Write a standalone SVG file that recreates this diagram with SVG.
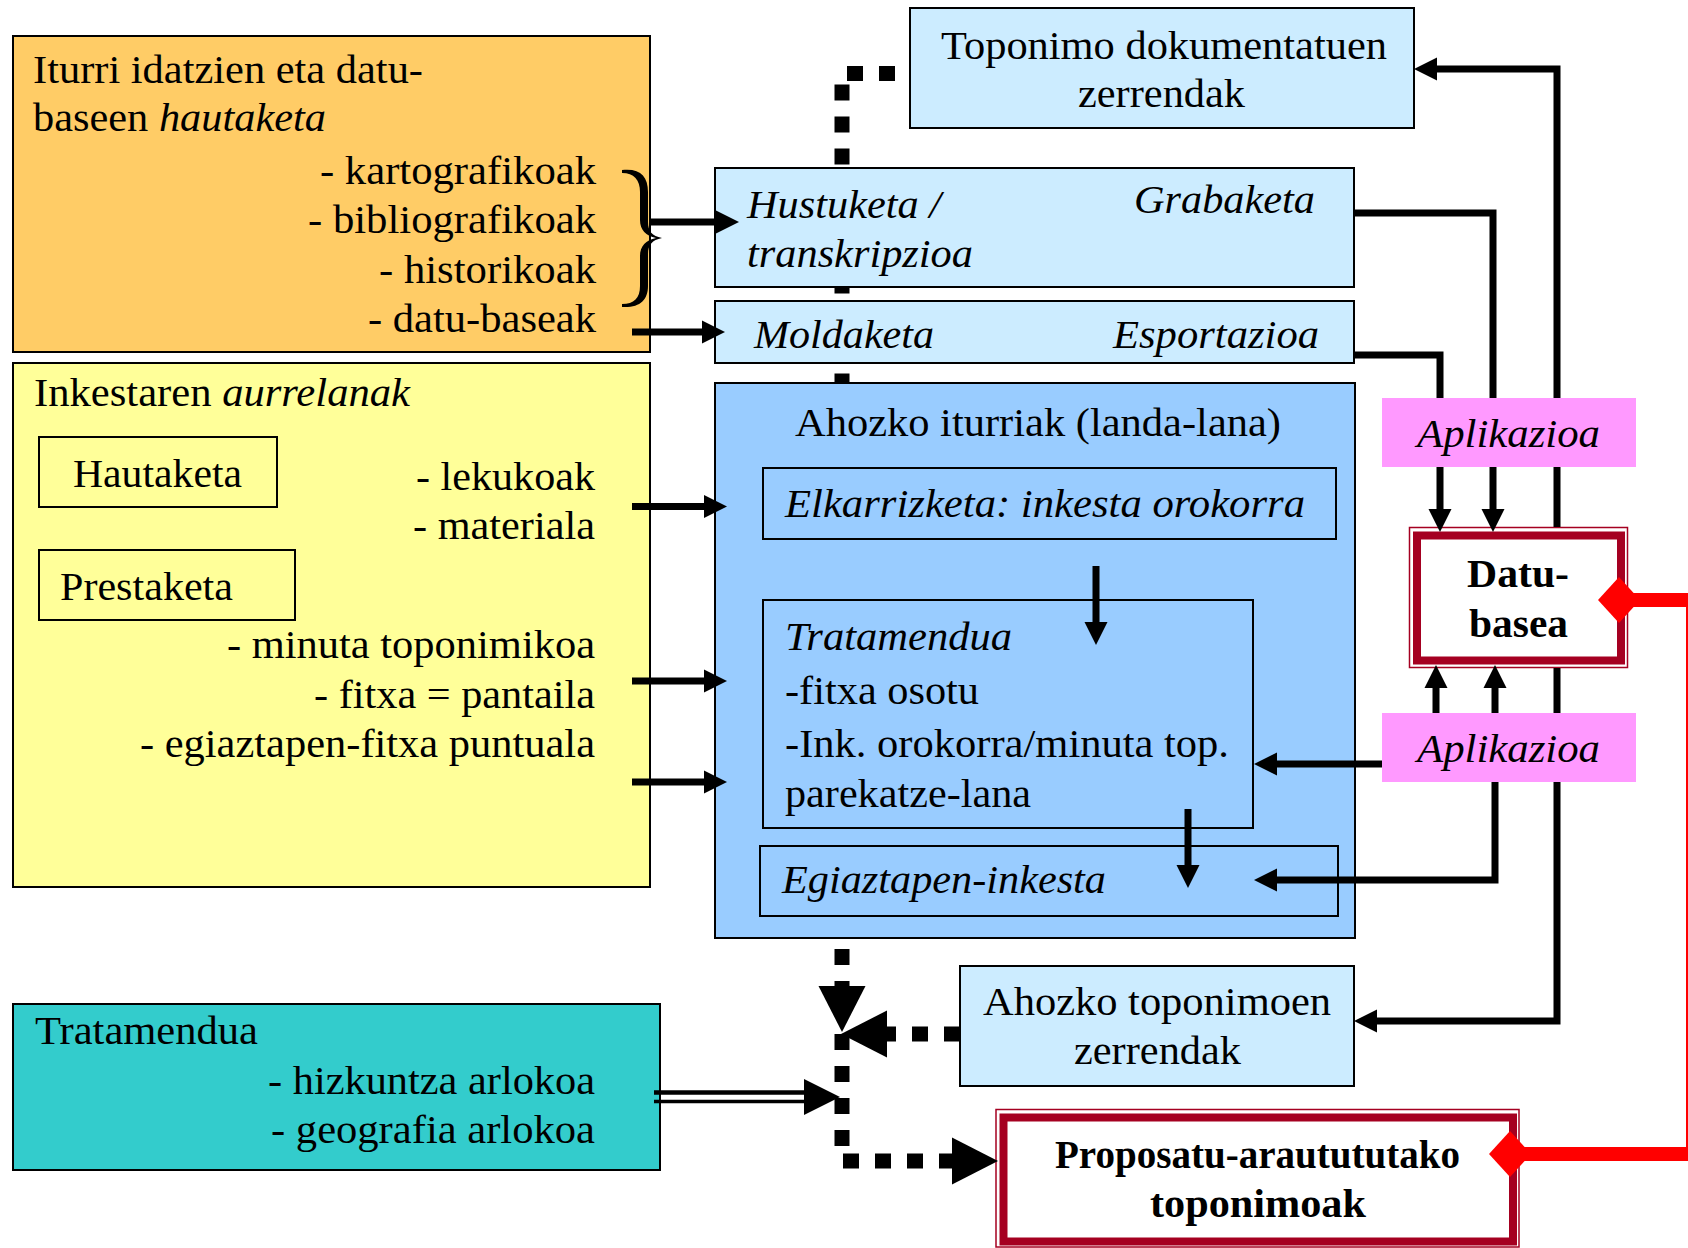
<svg xmlns="http://www.w3.org/2000/svg" width="1688" height="1248" viewBox="0 0 1688 1248">
<defs>
<style>
.t{font-family:"Liberation Serif","Times New Roman",serif;font-size:41px;fill:#000}
.i{font-style:italic}
.b{font-weight:bold}
.box{stroke:#000;stroke-width:2}
.ln{fill:none;stroke:#000;stroke-width:7}
.dash{fill:none;stroke:#000;stroke-width:15;stroke-dasharray:16 16}
.red{fill:none;stroke:#FF0000;stroke-width:14}
.dbo{fill:#fff;stroke:#A50021;stroke-width:1.5}
.dbi{fill:#fff;stroke:#A50021;stroke-width:8}
</style>
<marker id="ah" markerUnits="userSpaceOnUse" viewBox="0 -13 25 26" markerWidth="25" markerHeight="26" refX="0" refY="0" orient="auto-start-reverse" overflow="visible">
<path d="M0,-11.5 L23,0 L0,11.5 Z" fill="#000"/>
</marker>
<marker id="big" markerUnits="userSpaceOnUse" viewBox="0 -25 48 50" markerWidth="48" markerHeight="50" refX="0" refY="0" orient="auto" overflow="visible">
<path d="M0,-23.5 L46,0 L0,23.5 Z" fill="#000"/>
</marker>
<marker id="dia" markerUnits="userSpaceOnUse" viewBox="-22 -24 44 48" markerWidth="44" markerHeight="48" refX="0" refY="0" orient="0" overflow="visible">
<path d="M-21,0 L0,-23 L21,0 L0,23 Z" fill="#FF0000"/>
</marker>
</defs>
<rect width="1688" height="1248" fill="#fff"/>

<g id="node-iturri">
<rect class="box" x="13" y="36" width="637" height="316" fill="#FFCC66"/>
<text class="t" x="33" y="83" textLength="390" lengthAdjust="spacingAndGlyphs">Iturri idatzien eta datu-</text>
<text class="t" x="33" y="131" textLength="293" lengthAdjust="spacingAndGlyphs">baseen <tspan class="i">hautaketa</tspan></text>
<text class="t" x="320" y="184" textLength="276" lengthAdjust="spacingAndGlyphs">- kartografikoak</text>
<text class="t" x="308" y="233" textLength="288" lengthAdjust="spacingAndGlyphs">- bibliografikoak</text>
<text class="t" x="379" y="283" textLength="217" lengthAdjust="spacingAndGlyphs">- historikoak</text>
<text class="t" x="368" y="332" textLength="228" lengthAdjust="spacingAndGlyphs">- datu-baseak</text>
<path d="M622 170 C640 168 648 176 648 192 L648 222 C648 231 652 236 662 238 C652 240 648 245 648 254 L648 286 C648 300 640 308 622 307 L622 304 C634 304 640 298 640 286 L640 256 C640 246 646 240 656 238 C646 236 640 230 640 220 L640 192 C640 180 634 173 622 173 Z" fill="#000"/>
</g>

<g id="node-inkesta">
<rect class="box" x="13" y="363" width="637" height="524" fill="#FFFF99"/>
<text class="t" x="34" y="406" textLength="376" lengthAdjust="spacingAndGlyphs">Inkestaren <tspan class="i">aurrelanak</tspan></text>
<rect class="box" x="39" y="437" width="238" height="70" fill="none"/>
<text class="t" x="73" y="487" textLength="169" lengthAdjust="spacingAndGlyphs">Hautaketa</text>
<rect class="box" x="39" y="550" width="256" height="70" fill="none"/>
<text class="t" x="60" y="600" textLength="173" lengthAdjust="spacingAndGlyphs">Prestaketa</text>
<text class="t" x="416" y="490" textLength="179" lengthAdjust="spacingAndGlyphs">- lekukoak</text>
<text class="t" x="413" y="539" textLength="182" lengthAdjust="spacingAndGlyphs">- materiala</text>
<text class="t" x="227" y="658" textLength="368" lengthAdjust="spacingAndGlyphs">- minuta toponimikoa</text>
<text class="t" x="314" y="708" textLength="281" lengthAdjust="spacingAndGlyphs">- fitxa = pantaila</text>
<text class="t" x="140" y="757" textLength="455" lengthAdjust="spacingAndGlyphs">- egiaztapen-fitxa puntuala</text>
</g>

<g id="node-tratamendua">
<rect class="box" x="13" y="1004" width="647" height="166" fill="#33CCCC"/>
<text class="t" x="35" y="1044" textLength="223" lengthAdjust="spacingAndGlyphs">Tratamendua</text>
<text class="t" x="268" y="1094" textLength="327" lengthAdjust="spacingAndGlyphs">- hizkuntza arlokoa</text>
<text class="t" x="271" y="1143" textLength="324" lengthAdjust="spacingAndGlyphs">- geografia arlokoa</text>
</g>

<g id="node-toponimo-dok">
<rect class="box" x="910" y="8" width="504" height="120" fill="#CCECFF"/>
<text class="t" x="941" y="59" textLength="446" lengthAdjust="spacingAndGlyphs">Toponimo dokumentatuen</text>
<text class="t" x="1078" y="107" textLength="167" lengthAdjust="spacingAndGlyphs">zerrendak</text>
</g>

<g id="node-hustuketa">
<rect class="box" x="715" y="168" width="639" height="119" fill="#CCECFF"/>
<text class="t i" x="747" y="218" textLength="194" lengthAdjust="spacingAndGlyphs">Hustuketa /</text>
<text class="t i" x="747" y="267" textLength="226" lengthAdjust="spacingAndGlyphs">transkripzioa</text>
<text class="t i" x="1134" y="213" textLength="181" lengthAdjust="spacingAndGlyphs">Grabaketa</text>
</g>

<g id="node-moldaketa">
<rect class="box" x="715" y="301" width="639" height="62" fill="#CCECFF"/>
<text class="t i" x="754" y="348" textLength="180" lengthAdjust="spacingAndGlyphs">Moldaketa</text>
<text class="t i" x="1113" y="348" textLength="206" lengthAdjust="spacingAndGlyphs">Esportazioa</text>
</g>

<g id="node-ahozko-iturriak">
<rect class="box" x="715" y="383" width="640" height="555" fill="#99CCFF"/>
<text class="t" x="795" y="436" textLength="486" lengthAdjust="spacingAndGlyphs">Ahozko iturriak (landa-lana)</text>
</g>
<g id="node-elkarrizketa">
<rect class="box" x="763" y="468" width="573" height="71" fill="none"/>
<text class="t i" x="785" y="517" textLength="520" lengthAdjust="spacingAndGlyphs">Elkarrizketa: inkesta orokorra</text>
</g>
<g id="node-tratamendua-in">
<rect class="box" x="763" y="600" width="490" height="228" fill="none"/>
<text class="t i" x="785" y="650" textLength="227" lengthAdjust="spacingAndGlyphs">Tratamendua</text>
<text class="t" x="785" y="704" textLength="194" lengthAdjust="spacingAndGlyphs">-fitxa osotu</text>
<text class="t" x="785" y="757" textLength="444" lengthAdjust="spacingAndGlyphs">-Ink. orokorra/minuta top.</text>
<text class="t" x="785" y="807" textLength="246" lengthAdjust="spacingAndGlyphs">parekatze-lana</text>
</g>
<g id="node-egiaztapen">
<rect class="box" x="760" y="846" width="578" height="70" fill="none"/>
<text class="t i" x="782" y="893" textLength="324" lengthAdjust="spacingAndGlyphs">Egiaztapen-inkesta</text>
</g>

<g id="node-aplikazioa-1">
<rect x="1382" y="398" width="254" height="69" fill="#FF99FF"/>
<text class="t i" x="1417" y="447" textLength="183" lengthAdjust="spacingAndGlyphs">Aplikazioa</text>
</g>
<g id="node-aplikazioa-2">
<rect x="1382" y="713" width="254" height="69" fill="#FF99FF"/>
<text class="t i" x="1417" y="762" textLength="183" lengthAdjust="spacingAndGlyphs">Aplikazioa</text>
</g>

<g id="node-datubasea">
<rect class="dbo" x="1409.5" y="527.5" width="218" height="140"/>
<rect class="dbi" x="1417" y="535.5" width="204" height="125"/>
<text class="t b" x="1467" y="587" textLength="102" lengthAdjust="spacingAndGlyphs">Datu-</text>
<text class="t b" x="1469" y="637" textLength="99" lengthAdjust="spacingAndGlyphs">basea</text>
</g>

<g id="node-ahozko-zerrendak">
<rect class="box" x="960" y="966" width="394" height="120" fill="#CCECFF"/>
<text class="t" x="983" y="1015" textLength="348" lengthAdjust="spacingAndGlyphs">Ahozko toponimoen</text>
<text class="t" x="1074" y="1064" textLength="167" lengthAdjust="spacingAndGlyphs">zerrendak</text>
</g>

<g id="node-proposatu">
<rect class="dbo" x="996" y="1109.5" width="523" height="137.5"/>
<rect class="dbi" x="1003.5" y="1117.5" width="509.5" height="124"/>
<text class="t b" x="1055" y="1168" textLength="405" lengthAdjust="spacingAndGlyphs">Proposatu-arautututako</text>
<text class="t b" x="1150" y="1217" textLength="216" lengthAdjust="spacingAndGlyphs">toponimoak</text>
</g>

<g id="connectors">
<path class="dash" d="M911 73.5 H842 V168" stroke-dashoffset="16"/>
<path d="M842 287 V293.5 M842 373.5 V383" fill="none" stroke="#000" stroke-width="15"/>
<path class="dash" d="M842 938 V986" stroke-dashoffset="21" marker-end="url(#big)"/>
<path class="dash" d="M960 1034 H887" marker-end="url(#big)"/>
<path class="dash" d="M842 1034 V1161 H952" marker-end="url(#big)"/>
<path d="M654 1092.5 H806" fill="none" stroke="#000" stroke-width="4.5"/>
<path d="M654 1101.5 H806" fill="none" stroke="#000" stroke-width="3.5"/>
<path d="M804 1079 L840 1097 L804 1115 Z" fill="#000"/>
<path class="ln" d="M650 222 H716" marker-end="url(#ah)"/>
<path class="ln" d="M632 332 H702" marker-end="url(#ah)"/>
<path class="ln" d="M632 506.5 H704" marker-end="url(#ah)"/>
<path class="ln" d="M632 681 H704" marker-end="url(#ah)"/>
<path class="ln" d="M632 782 H704" marker-end="url(#ah)"/>
<path class="ln" d="M1096 566 V622" marker-end="url(#ah)"/>
<path class="ln" d="M1188 809 V865" marker-end="url(#ah)"/>
<path class="ln" d="M1354 213 H1493 V398 M1493 467 V509" marker-end="url(#ah)"/>
<path class="ln" d="M1354 355 H1440 V398 M1440 467 V509" marker-end="url(#ah)"/>
<path class="ln" d="M1436 713 V688" marker-end="url(#ah)"/>
<path class="ln" d="M1495 713 V688" marker-end="url(#ah)"/>
<path class="ln" d="M1382 764 H1277" marker-end="url(#ah)"/>
<path class="ln" d="M1495 782 V880 H1277" marker-end="url(#ah)"/>
<path class="ln" d="M1437 69 H1557 V398 M1557 467 V527 M1557 668 V713 M1557 782 V1021 H1377" marker-start="url(#ah)" marker-end="url(#ah)"/>
<path class="red" d="M1619 600 H1693 V1154 H1510" marker-start="url(#dia)" marker-end="url(#dia)"/>
</g>
</svg>
